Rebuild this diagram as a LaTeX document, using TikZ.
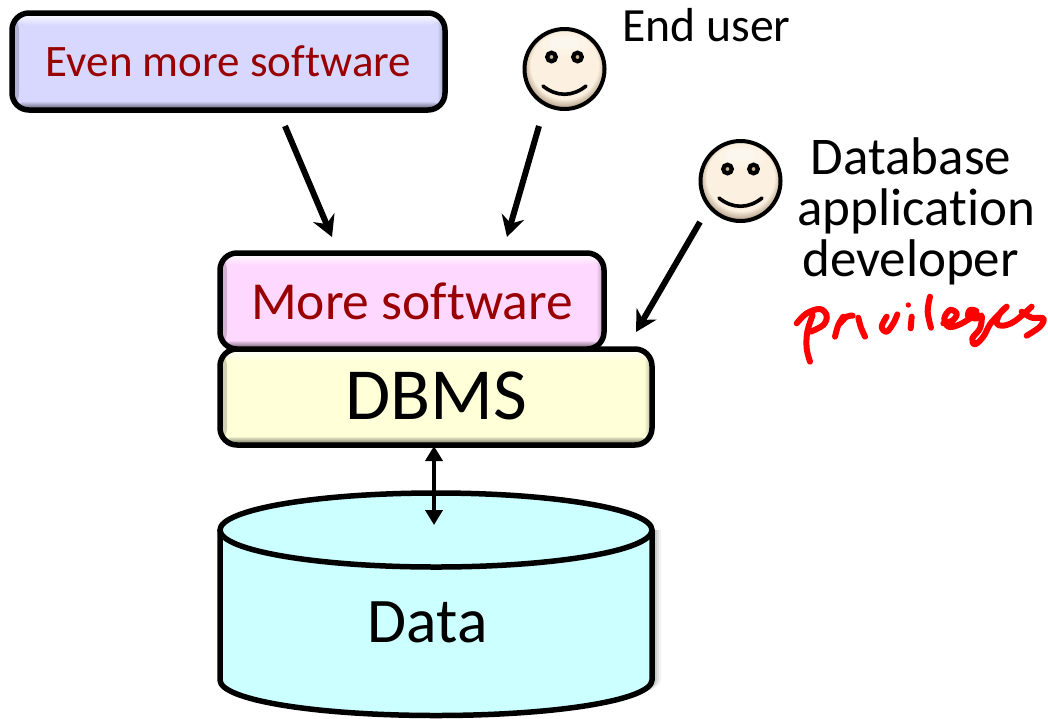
\documentclass[tikz,border=0pt]{standalone}
\usepackage{fontspec}
\setmainfont[Ligatures=NoCommon]{Carlito}
\usetikzlibrary{arrows.meta,calc}
\definecolor{lav}{HTML}{D8D8FF}
\definecolor{pinkb}{HTML}{FFD8FF}
\definecolor{yel}{HTML}{FFFFD8}
\definecolor{cyanb}{HTML}{CCFFFF}
\definecolor{txtred}{HTML}{990000}
\definecolor{inkred}{HTML}{FF0000}
\definecolor{faceskin}{HTML}{FCF1E0}
\definecolor{facedark}{HTML}{C4B29C}
\definecolor{eyetan}{HTML}{C8B498}
\pgfdeclareradialshading{faceball}{\pgfpoint{0bp}{4bp}}{
  color(0bp)=(faceskin);
  color(21bp)=(faceskin);
  color(25bp)=(facedark);
  color(29bp)=(facedark!40!black);
  color(50bp)=(black)}
\tikzset{
  x=1pt,y=-1pt,
  bevel/.style={draw=black,line width=5.5pt,rounded corners=17pt,fill=#1,inner sep=0pt,anchor=center,
    path picture={
      \shade[left color=black!18!#1,right color=#1] (path picture bounding box.north west) rectangle ($(path picture bounding box.south west)+(7,0)$);
      \shade[left color=#1,right color=black!30!#1] ($(path picture bounding box.north east)+(-8,0)$) rectangle (path picture bounding box.south east);
      \shade[top color=white,bottom color=#1] (path picture bounding box.north west) rectangle ($(path picture bounding box.north east)+(0,12)$);
      \shade[top color=#1,bottom color=black!65!#1] ($(path picture bounding box.south west)+(0,-9)$) rectangle (path picture bounding box.south east);
    }},
  boxtext/.style={font=\fontsize{#1}{#1}\selectfont},
  flow/.style={line width=6pt,-{Stealth[length=21pt,width=23pt,inset=7pt]}},
  both/.style={line width=4.3pt,{Stealth[length=15pt,width=17pt,inset=0pt]}-{Stealth[length=15pt,width=17pt,inset=0pt]}},
  faceline/.style={draw=black,line width=4pt},
  plain/.style={anchor=base,inner sep=0pt,font=\fontsize{#1}{#1}\selectfont},
  ink/.style={draw=inkred,line width=6pt,line cap=round,line join=round},
  eyering/.style={draw=black,fill=eyetan,line width=4.2pt},
  smileline/.style={draw=black,line width=3.6pt,line cap=round},
}
\newcommand{\smiley}[3]{%
  \shade[shading=faceball,faceline] (#1,#2) circle (40);
  \fill[white,opacity=.25] ($(#1,#2)+(0,-24)$) ellipse [x radius=24,y radius=10];
  \fill[white,opacity=.3] ($(#1,#2)+(0,-26)$) ellipse [x radius=15,y radius=6];
  \path (#1,#2) +(-13,-12) coordinate (#3l) +(13,-12) coordinate (#3r);
  \draw[eyering] (#3l) circle (4.3);
  \draw[eyering] (#3r) circle (4.3);
  \draw[smileline] ($(#1,#2)+(-21.5,17)$) .. controls ($(#1,#2)+(-8,28)$) and ($(#1,#2)+(8,28)$) .. ($(#1,#2)+(21.5,17)$);
}
\begin{document}
\begin{tikzpicture}
\useasboundingbox (0,0) rectangle (1048,718);

% cylinder shadow
\foreach \d/\o in {9/.05,7/.07,5/.09,3/.11}{
  \fill[black,opacity=\o] (220+\d,530) -- (652+\d,530) -- (652+\d,680) .. controls (652+\d,700) and (540,716) .. (436,716) .. controls (332,716) and (220,700) .. (220,680) -- cycle;
}
% cylinder
\draw[fill=cyanb,draw=black,line width=5.5pt] (220,530) -- (220,680)
  .. controls (220,700) and (316,715.5) .. (436,715.5)
  .. controls (556,715.5) and (652,700) .. (652,680) -- (652,530);
\draw[fill=cyanb,draw=black,line width=5.5pt] (436,530) ellipse [x radius=216,y radius=37];
\node[plain=63.5] (data) at (427.5,642) {Data};

% boxes
\node[bevel=yel,minimum width=432pt,minimum height=96pt,text height=45pt,text depth=0pt,boxtext=73.5] (dbms) at (436,397) {DBMS};
\node[bevel=pinkb,minimum width=384pt,minimum height=96pt,text height=36pt,text depth=0pt,boxtext=53.5,text=txtred] (more) at (412,301) {More software};
\node[bevel=lav,minimum width=433pt,minimum height=97pt,text height=29pt,text depth=0pt,boxtext=45,text=txtred] (even) at (228.5,61.5) {Even more software};

% labels
\node[plain=47.7] (enduser) at (706.5,41) {End user};
\node[plain=53] (dev1) at (911,174) {Database};
\node[plain=53] (dev2) at (916.5,225) {application};
\node[plain=53] (dev3) at (910.5,276) {developer};

% faces
\smiley{564.5}{69}{fa}
\smiley{740.5}{181}{fb}

% connector ends
\coordinate (a1s) at (285,126);
\coordinate (a1e) at (332,237);
\coordinate (a2s) at (539,126);
\coordinate (a2e) at (507,237);
\coordinate (a3s) at (700,222);
\coordinate (a3e) at (636,332);
\coordinate (a4s) at (434,446);
\coordinate (a4e) at (434,525);
\draw[flow] (a1s) -- (a1e);
\draw[flow] (a2s) -- (a2e);
\draw[flow] (a3s) -- (a3e);
\draw[both] (a4s) -- (a4e);

% handwriting
\begin{scope}[shift={(790,295)},x=0.3333pt,y=-0.3333pt]
\draw[ink] plot[smooth,tension=.6] coordinates {(20,85)(50,55)(90,42)(110,62)(100,90)(62,110)};
\draw[ink] plot[smooth,tension=.6] coordinates {(68,60)(52,110)(50,160)(60,200)};
\draw[ink] plot[smooth,tension=.6] coordinates {(160,65)(145,90)(135,125)};
\draw[ink] plot[smooth,tension=.6] coordinates {(150,85)(170,65)(188,62)};
\draw[ink] plot[smooth,tension=.6] coordinates {(205,68)(212,95)(225,125)};
\draw[ink] plot[smooth,tension=.6] coordinates {(290,65)(275,95)(290,110)(310,85)(322,58)};
\draw[ink] plot[smooth,tension=.6] coordinates {(365,65)(362,100)};
\fill[inkred] (355,30) circle (8);
\end{scope}
\begin{scope}[shift={(915,295)},x=0.3333pt,y=-0.3333pt]
\draw[ink] plot[smooth,tension=.6] coordinates {(45,5)(38,50)(48,98)};
\draw[ink] plot[smooth,tension=.6] coordinates {(85,85)(115,75)(125,55)(105,45)(88,70)(100,95)(130,90)(165,70)(185,50)(165,45)(160,65)(185,70)(200,62)(195,100)(172,130)(180,148)(205,125)(225,88)(250,60)(275,35)(255,55)(245,85)(265,92)(300,78)(350,35)};
\draw[ink] plot[smooth,tension=.6] coordinates {(320,50)(350,68)(385,70)(375,95)(335,122)};
\end{scope}
\end{tikzpicture}
\end{document}
